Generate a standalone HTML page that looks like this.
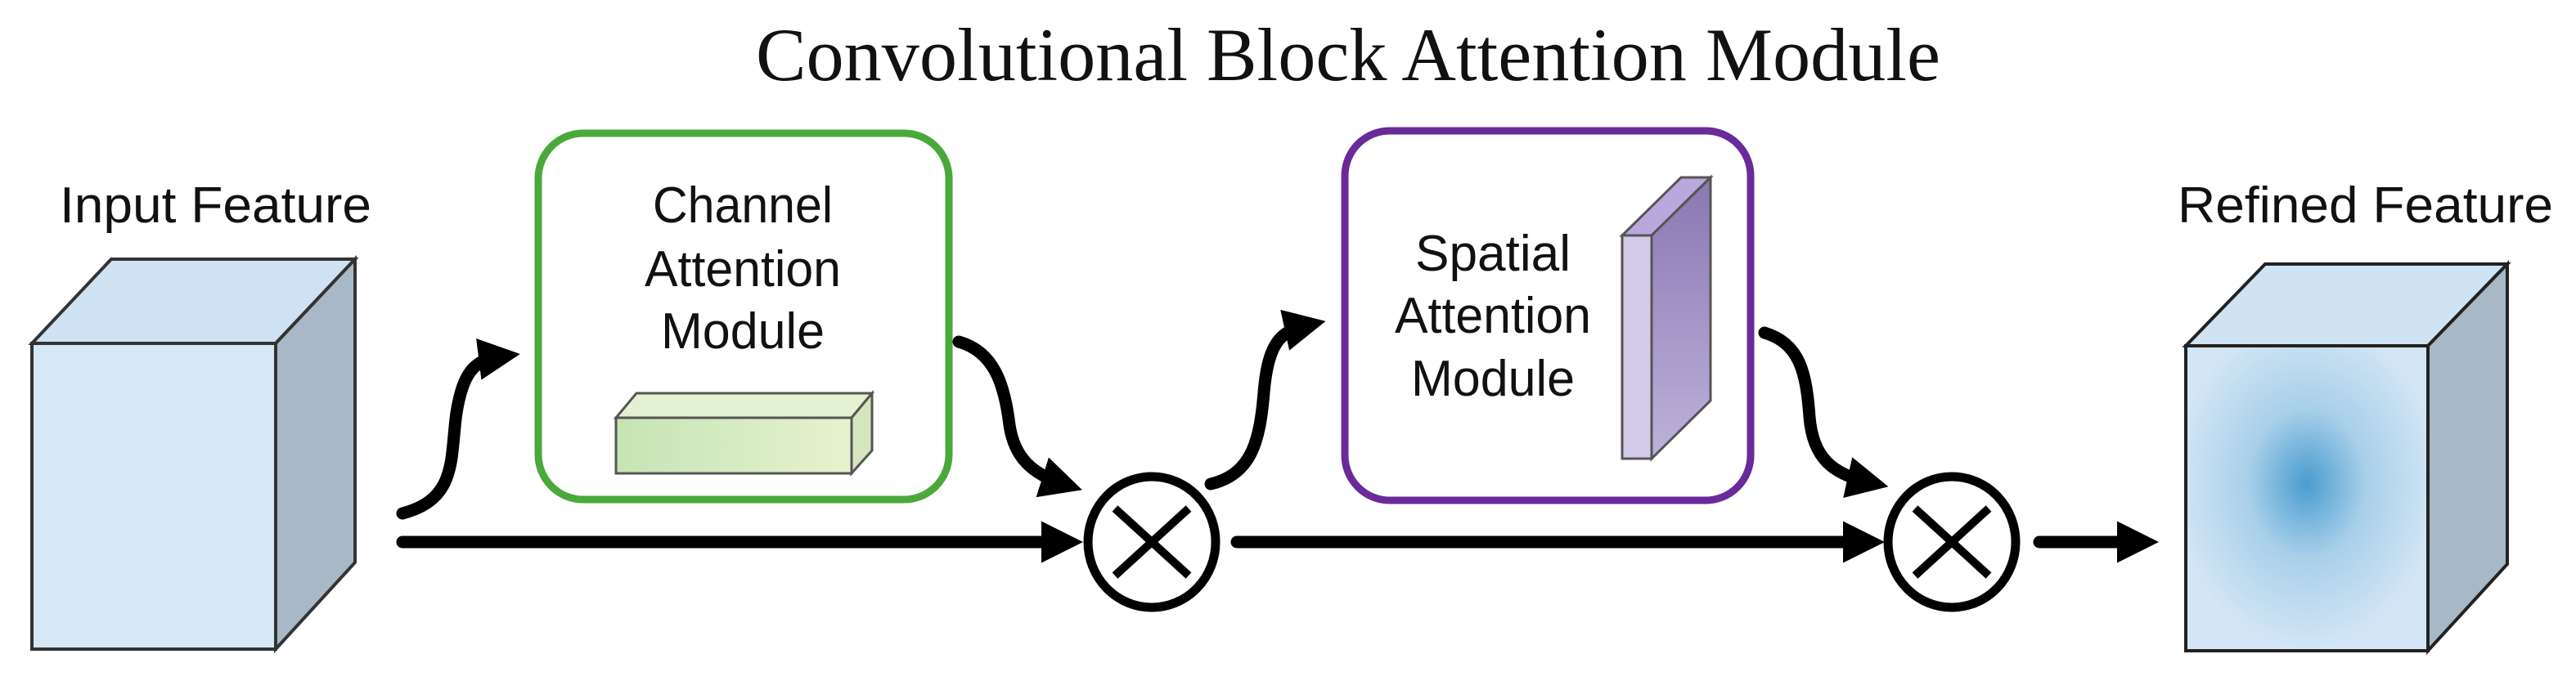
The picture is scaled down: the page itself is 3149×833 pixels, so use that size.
<!DOCTYPE html>
<html><head><meta charset="utf-8"><style>html,body{margin:0;padding:0;background:#fff}</style></head>
<body>
<svg width="3149" height="828" viewBox="0 0 3149 828" xmlns="http://www.w3.org/2000/svg">
<defs>
<marker id="ah" markerWidth="3.4" markerHeight="3.4" refX="1.8" refY="1.7" orient="auto" markerUnits="strokeWidth">
<path d="M0,0 L3.4,1.7 L0,3.4 z" fill="#000"/></marker>
<linearGradient id="gb" x1="0" y1="0" x2="1" y2="0"><stop offset="0" stop-color="#c6e4b4"/><stop offset="1" stop-color="#e6f2cf"/></linearGradient>
<linearGradient id="pv" x1="0" y1="0" x2="0" y2="1"><stop offset="0" stop-color="#8a77b3"/><stop offset="1" stop-color="#bdb2da"/></linearGradient>
<radialGradient id="rb" cx="0.5" cy="0.45" r="0.55"><stop offset="0" stop-color="#4a9ccf"/><stop offset="0.45" stop-color="#a9d0ea"/><stop offset="1" stop-color="#d4e6f5"/></radialGradient>
</defs>
<text x="924" y="98" font-family="Liberation Serif, serif" font-size="92" textLength="1448" lengthAdjust="spacingAndGlyphs" fill="#111">Convolutional Block Attention Module</text>

<text x="73" y="272" font-family="Liberation Sans, sans-serif" font-size="62" textLength="381" lengthAdjust="spacingAndGlyphs" fill="#111">Input Feature</text>
<polygon points="39,420 136,317 434,317 337,420" fill="#cfe2f3" stroke="#333" stroke-width="4"/>
<polygon points="337,420 434,317 434,688 337,794" fill="#a9b8c6" stroke="#333" stroke-width="4"/>
<rect x="39" y="420" width="298" height="374" fill="#d6e7f5" stroke="#333" stroke-width="4"/>

<rect x="658" y="163" width="502" height="448" rx="55" fill="#fff" stroke="#4aa93a" stroke-width="9"/>
<g font-family="Liberation Sans, sans-serif" font-size="62" fill="#111" text-anchor="middle">
<text x="908" y="272" textLength="220" lengthAdjust="spacingAndGlyphs">Channel</text><text x="908" y="350" textLength="240" lengthAdjust="spacingAndGlyphs">Attention</text><text x="908" y="426" textLength="200" lengthAdjust="spacingAndGlyphs">Module</text></g>
<polygon points="753,511 778,481 1066,481 1041,511" fill="#e2f1d2" stroke="#555" stroke-width="3"/>
<polygon points="1041,511 1066,481 1066,551 1041,579" fill="#d4e6bd" stroke="#555" stroke-width="3"/>
<rect x="753" y="511" width="288" height="68" fill="url(#gb)" stroke="#555" stroke-width="3"/>

<rect x="1644" y="160" width="496" height="452" rx="55" fill="#fff" stroke="#6a2a9a" stroke-width="9"/>
<g font-family="Liberation Sans, sans-serif" font-size="62" fill="#111" text-anchor="middle">
<text x="1825" y="331" textLength="190" lengthAdjust="spacingAndGlyphs">Spatial</text><text x="1825" y="407" textLength="240" lengthAdjust="spacingAndGlyphs">Attention</text><text x="1825" y="484" textLength="200" lengthAdjust="spacingAndGlyphs">Module</text></g>
<polygon points="1983,288 2055,217 2091,217 2019,288" fill="#b8a8de" stroke="#555" stroke-width="3"/>
<polygon points="2019,288 2091,217 2091,490 2019,561" fill="url(#pv)" stroke="#555" stroke-width="3"/>
<rect x="1983" y="288" width="36" height="273" fill="#d4cbea" stroke="#555" stroke-width="3"/>

<text x="2662" y="272" font-family="Liberation Sans, sans-serif" font-size="62" textLength="459" lengthAdjust="spacingAndGlyphs" fill="#111">Refined Feature</text>
<polygon points="2672,423 2769,323 3065,323 2968,423" fill="#cfe3f2" stroke="#222" stroke-width="4"/>
<polygon points="2968,423 3065,323 3065,690 2968,796" fill="#a7b8c7" stroke="#222" stroke-width="4"/>
<rect x="2672" y="423" width="296" height="373" fill="url(#rb)" stroke="#222" stroke-width="4"/>

<g fill="none" stroke="#000" stroke-width="15" stroke-linecap="round">
<line x1="492" y1="663" x2="1300" y2="663" marker-end="url(#ah)"/>
<line x1="1512" y1="663" x2="2280" y2="663" marker-end="url(#ah)"/>
<line x1="2493" y1="663" x2="2615" y2="663" marker-end="url(#ah)"/>
<path d="M492,628 C560,610 550,560 558,505 C566,455 580,440 612,436" marker-end="url(#ah)"/>
<path d="M1172,418 C1215,430 1228,470 1234,520 C1240,560 1262,580 1300,592" marker-end="url(#ah)"/>
<path d="M1480,592 C1530,580 1540,540 1545,480 C1550,420 1565,405 1597,398" marker-end="url(#ah)"/>
<path d="M2157,407 C2200,420 2208,455 2212,510 C2216,560 2240,580 2285,590" marker-end="url(#ah)"/>
</g>
<g fill="#fff" stroke="#000" stroke-width="11">
<ellipse cx="1408" cy="663" rx="78" ry="80"/>
<ellipse cx="2386" cy="663" rx="78" ry="80"/>
</g>
<g stroke="#000" stroke-width="10">
<line x1="1363" y1="622" x2="1453" y2="704"/><line x1="1453" y1="622" x2="1363" y2="704"/>
<line x1="2341" y1="622" x2="2431" y2="704"/><line x1="2431" y1="622" x2="2341" y2="704"/>
</g>
</svg>
</body></html>
